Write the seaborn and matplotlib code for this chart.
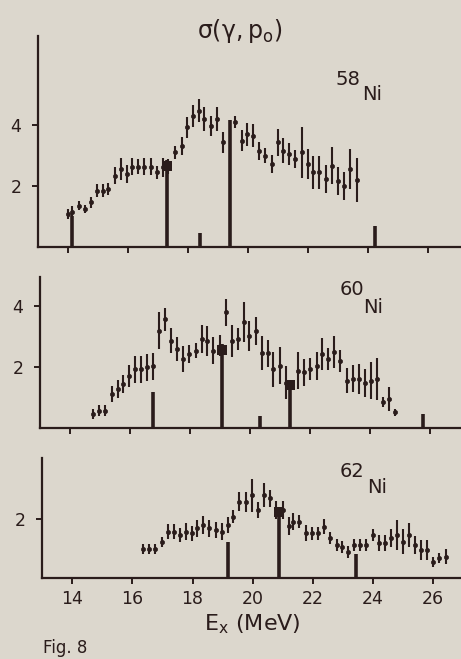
import numpy as np
import pandas as pd
import matplotlib
matplotlib.use("Agg")
import matplotlib.pyplot as plt
import seaborn as sb

# 58Ni (gamma,p0) cross section points
e58 = [14.0, 14.12, 14.38, 14.57, 14.77, 14.96, 15.16, 15.34, 15.57, 15.76, 15.96, 16.14,
       16.34, 16.54, 16.76, 16.96, 17.18, 17.34, 17.57, 17.79, 17.96, 18.16, 18.37, 18.54,
       18.76, 18.96, 19.18, 19.57, 19.79, 19.96, 20.16, 20.38, 20.57, 20.79, 20.99, 21.18,
       21.38, 21.58, 21.79, 21.99, 22.18, 22.38, 22.6, 22.81, 22.99, 23.21, 23.4, 23.62]
s58 = [1.08, 1.15, 1.35, 1.25, 1.47, 1.85, 1.85, 1.9, 2.34, 2.56, 2.39, 2.63,
       2.64, 2.64, 2.64, 2.45, 2.61, 2.64, 3.1, 3.32, 3.92, 4.3, 4.47, 4.2,
       3.98, 4.2, 3.43, 4.09, 3.49, 3.7, 3.65, 3.16, 3.0, 2.72, 3.43, 3.16,
       3.05, 2.89, 3.1, 2.72, 2.45, 2.45, 2.23, 2.67, 2.17, 2.0, 2.56, 2.2]
d58 = [0.15, 0.2, 0.15, 0.13, 0.18, 0.22, 0.22, 0.2, 0.27, 0.35, 0.3, 0.28,
       0.25, 0.27, 0.27, 0.22, 0.3, 0.25, 0.2, 0.3, 0.35, 0.35, 0.38, 0.38,
       0.33, 0.4, 0.35, 0.2, 0.35, 0.38, 0.38, 0.3, 0.25, 0.3, 0.45, 0.4,
       0.35, 0.3, 0.85, 0.5, 0.55, 0.55, 0.45, 0.6, 0.45, 0.45, 0.65, 0.73]
bar_e58 = [14.12, 17.29, 18.4, 19.4, 24.23]
bar_h58 = [1.03, 2.85, 0.45, 4.17, 0.7]
blob_e58 = [17.29]
blob_s58 = [2.65]

# 60Ni
e60 = [14.78, 14.98, 15.17, 15.39, 15.59, 15.78, 15.97, 16.17, 16.36, 16.56, 16.78, 16.97,
       17.17, 17.37, 17.58, 17.78, 17.98, 18.19, 18.39, 18.58, 18.78, 19.0, 19.19, 19.39,
       19.59, 19.8, 19.98, 20.19, 20.39, 20.59, 20.78, 21.0, 21.2, 21.61, 21.8, 22.0,
       22.22, 22.39, 22.61, 22.81, 23.0, 23.22, 23.42, 23.63, 23.83, 24.03, 24.22, 24.42,
       24.63, 24.83]
s60 = [0.46, 0.57, 0.57, 1.11, 1.28, 1.44, 1.71, 1.93, 1.93, 1.99, 2.02, 3.19,
       3.57, 2.86, 2.59, 2.26, 2.43, 2.53, 2.92, 2.86, 2.53, 2.7, 3.79, 2.86,
       2.92, 3.47, 3.03, 3.19, 2.45, 2.45, 1.93, 2.04, 1.49, 1.88, 1.83, 1.93,
       2.04, 2.43, 2.26, 2.48, 2.21, 1.55, 1.61, 1.61, 1.49, 1.55, 1.61, 0.84,
       0.95, 0.51]
d60 = [0.16, 0.18, 0.18, 0.27, 0.3, 0.3, 0.36, 0.44, 0.44, 0.44, 0.44, 0.6,
       0.38, 0.41, 0.38, 0.44, 0.3, 0.25, 0.46, 0.49, 0.44, 0.35, 0.44, 0.52,
       0.36, 0.66, 0.49, 0.46, 0.55, 0.45, 0.57, 0.6, 0.55, 0.6, 0.44, 0.36,
       0.46, 0.52, 0.36, 0.52, 0.36, 0.41, 0.44, 0.49, 0.46, 0.6, 0.68, 0.16,
       0.38, 0.11]
bar_e60 = [16.78, 19.08, 20.33, 21.32, 25.75]
bar_h60 = [1.17, 2.75, 0.4, 1.5, 0.46]
blob_e60 = [19.08, 21.32]
blob_s60 = [2.55, 1.4]

# 62Ni
e62 = [16.37, 16.57, 16.76, 16.98, 17.18, 17.37, 17.57, 17.78, 17.98, 18.16, 18.36, 18.56,
       18.77, 18.97, 19.17, 19.36, 19.56, 19.77, 19.97, 20.17, 20.38, 20.58, 20.78, 21.0,
       21.19, 21.35, 21.55, 21.77, 21.98, 22.18, 22.38, 22.57, 22.79, 22.98, 23.18, 23.37,
       23.57, 23.77, 23.99, 24.18, 24.38, 24.59, 24.79, 24.99, 25.2, 25.4, 25.58, 25.78,
       26.0, 26.2, 26.41]
s62 = [1.0, 1.0, 1.0, 1.23, 1.57, 1.57, 1.46, 1.57, 1.52, 1.68, 1.8, 1.68,
       1.63, 1.57, 1.8, 2.08, 2.59, 2.59, 2.81, 2.31, 2.81, 2.7, 2.3, 2.3,
       1.77, 1.91, 1.91, 1.52, 1.52, 1.52, 1.74, 1.35, 1.12, 1.06, 0.89, 1.12,
       1.12, 1.12, 1.46, 1.18, 1.18, 1.35, 1.46, 1.23, 1.46, 1.12, 0.95, 0.95,
       0.55, 0.67, 0.72]
d62 = [0.17, 0.17, 0.17, 0.17, 0.25, 0.25, 0.25, 0.28, 0.25, 0.28, 0.31, 0.28,
       0.28, 0.28, 0.28, 0.23, 0.31, 0.34, 0.56, 0.28, 0.4, 0.28, 0.3, 0.3,
       0.31, 0.28, 0.23, 0.28, 0.22, 0.22, 0.25, 0.2, 0.2, 0.2, 0.2, 0.2,
       0.2, 0.2, 0.2, 0.28, 0.28, 0.31, 0.5, 0.42, 0.4, 0.31, 0.34, 0.34,
       0.17, 0.17, 0.25]
bar_e62 = [19.19, 20.89, 23.43]
bar_h62 = [1.23, 2.4, 0.81]
blob_e62 = [20.89]
blob_s62 = [2.25]

xticks = [14, 16, 18, 20, 22, 24, 26]

paper = "#dcd7cd"
ink = "#2a1c1b"

sb.set_theme(style="ticks", rc={
    "figure.facecolor": paper, "axes.facecolor": paper,
    "axes.edgecolor": ink, "xtick.color": ink, "ytick.color": ink,
    "text.color": ink, "axes.labelcolor": ink,
    "axes.linewidth": 1.6, "xtick.major.width": 1.4, "ytick.major.width": 1.4,
    "xtick.major.size": 4, "ytick.major.size": 4,
    "mathtext.fontset": "dejavusans",
})
plt.rcParams["font.family"] = ["DejaVu Sans"]

fig = plt.figure(figsize=(4.61, 6.59), dpi=100)

# [left, bottom, width, height], xlim, ylim, yticks, data
panels = [
    ([38/461, 1-247/659, 423/461, 211/659], (13, 27.1), (0, 6.92), [2, 4],
     e58, s58, d58, bar_e58, bar_h58, blob_e58, blob_s58, "58", (22.93, 5.31), (23.8, 4.82)),
    ([40/461, 1-428/659, 421/461, 151/659], (13, 27.03), (0, 4.95), [2, 4],
     e60, s60, d60, bar_e60, bar_h60, blob_e60, blob_s60, "60", (23.0, 4.36), (23.77, 3.77)),
    ([42/461, 1-578/659, 419/461, 120/659], (13, 26.92), (0, 4.07), [2],
     e62, s62, d62, bar_e62, bar_h62, blob_e62, blob_s62, "62", (22.9, 3.42), (23.8, 2.88)),
]

for i, (pos, xl, yl, yt, e, s, d, be, bh, ble, bls, mass, p1, p2) in enumerate(panels):
    ax = fig.add_axes(pos)
    df = pd.DataFrame({"E": e, "sig": s, "err": d})
    ax.errorbar(df["E"], df["sig"], yerr=df["err"], fmt="none", ecolor=ink,
                elinewidth=1.5, capsize=0)
    sb.scatterplot(data=df, x="E", y="sig", ax=ax, color=ink, s=9, marker="o",
                   edgecolor=ink, linewidth=0.5, zorder=3)
    ax.vlines(be, 0, bh, colors=ink, linewidth=2.6)
    sb.scatterplot(x=ble, y=bls, ax=ax, color=ink, s=45, marker="s", linewidth=0, zorder=4)
    ax.set_xlim(*xl)
    ax.set_ylim(*yl)
    ax.set_xticks(xticks)
    ax.set_yticks(yt)
    ax.tick_params(axis="y", labelsize=12.5, pad=8)
    ax.tick_params(axis="x", labelsize=12.5, pad=5)
    if i < 2:
        ax.set_xticklabels([])
    ax.set_xlabel("")
    ax.set_ylabel("")
    sb.despine(ax=ax)
    ax.text(p1[0], p1[1], mass, fontsize=14)
    ax.text(p2[0], p2[1], "Ni", fontsize=14)

fig.text(240/461, 1-38/659, r"$\mathregular{\sigma(\gamma,p_o)}$", fontsize=17,
         ha="center", va="baseline")
fig.text(252/461, 1-630/659, r"E$_\mathregular{x}$ (MeV)", fontsize=16, ha="center", va="baseline")
fig.text(43/461, 1-657/659, "Fig. 8", fontsize=12, ha="left", va="bottom")

fig.savefig("out.png", dpi=100, facecolor=paper)
